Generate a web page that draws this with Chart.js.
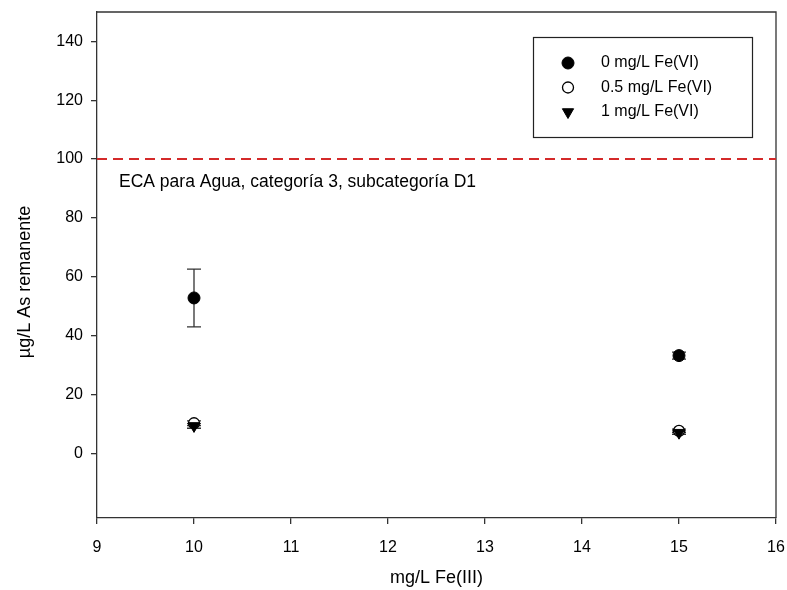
<!DOCTYPE html>
<html>
<head>
<meta charset="utf-8">
<script src="https://cdn.jsdelivr.net/npm/chart.js@4.4.1/dist/chart.umd.min.js"></script>
<style>
html,body{margin:0;padding:0;background:#fff;}
#wrap{width:787px;height:590px;position:relative;}
</style>
</head>
<body>
<div id="wrap"><canvas id="c" width="787" height="590"></canvas></div>
<script>
// ---- data ----
const xValues = [10, 15];
const seriesNames = ['0 mg/L Fe(VI)', '0.5 mg/L Fe(VI)', '1 mg/L Fe(VI)'];
const series0 = [52.8, 33.2];
const series0Err = [9.8, 1.2];
const series1 = [10.2, 7.6];
const series1Err = [0.8, 0.6];
const series2 = [9.3, 7.0];
const series2Err = [0.8, 0.6];
const xTicks = [9, 10, 11, 12, 13, 14, 15, 16];
const yTicks = [0, 20, 40, 60, 80, 100, 120, 140];
const limitValue = 100;
const limitLabel = 'ECA para Agua, categoría 3, subcategoría D1';
const xTitle = 'mg/L Fe(III)';
const yTitle = 'µg/L As remanente';

const FONT = 'Arial, "Liberation Sans", sans-serif';

function pts(vals){ return xValues.map((x,i)=>({x:x, y:vals[i]})); }

const datasets = [
  {label: seriesNames[0], data: pts(series0), err: series0Err, pointStyle:'circle', pointRadius:6,
   backgroundColor:'#000', borderColor:'#000', borderWidth:1, rotation:0, order:2},
  {label: seriesNames[1], data: pts(series1), err: series1Err, pointStyle:'circle', pointRadius:5.5,
   backgroundColor:'#fff', borderColor:'#000', borderWidth:1.3, rotation:0, order:1},
  {label: seriesNames[2], data: pts(series2), err: series2Err, pointStyle:'triangle', pointRadius:6.5,
   backgroundColor:'#000', borderColor:'#000', borderWidth:1, rotation:180, order:0}
];

const errorBars = {
  id:'errorBars',
  beforeDatasetsDraw(chart){
    const ctx = chart.ctx;
    const ys = chart.scales.y, xs = chart.scales.x;
    ctx.save();
    ctx.strokeStyle = '#333';
    ctx.lineWidth = 1.3;
    chart.data.datasets.forEach(ds=>{
      ds.data.forEach((p,i)=>{
        const e = ds.err[i];
        const px = xs.getPixelForValue(p.x);
        const yt = ys.getPixelForValue(p.y + e), yb = ys.getPixelForValue(p.y - e);
        ctx.beginPath();
        ctx.moveTo(px, yt); ctx.lineTo(px, yb);
        ctx.moveTo(px-7, yt); ctx.lineTo(px+7, yt);
        ctx.moveTo(px-7, yb); ctx.lineTo(px+7, yb);
        ctx.stroke();
      });
    });
    ctx.restore();
  }
};

const decor = {
  id:'decor',
  afterDraw(chart){
    const ctx = chart.ctx;
    const a = chart.chartArea;
    const ys = chart.scales.y;
    ctx.save();
    // frame top/right
    ctx.strokeStyle = '#333';
    ctx.lineWidth = 1.3;
    ctx.beginPath();
    ctx.moveTo(a.left, a.top); ctx.lineTo(a.right, a.top); ctx.lineTo(a.right, a.bottom);
    ctx.stroke();
    // limit line
    const ly = ys.getPixelForValue(limitValue);
    ctx.strokeStyle = '#d42a2a';
    ctx.lineWidth = 2;
    ctx.setLineDash([10,6]);
    ctx.beginPath();
    ctx.moveTo(a.left, ly); ctx.lineTo(a.right, ly);
    ctx.stroke();
    ctx.setLineDash([]);
    // limit label
    ctx.fillStyle = '#000';
    ctx.font = '17.5px ' + FONT;
    ctx.textAlign = 'left';
    ctx.textBaseline = 'middle';
    ctx.fillText(limitLabel, 119, ly + 23);
    // legend
    ctx.strokeStyle = '#222';
    ctx.lineWidth = 1.2;
    ctx.strokeRect(533.5, 37.5, 219, 100);
    ctx.font = '16px ' + FONT;
    const rows = [63, 87.5, 112];
    chart.data.datasets.forEach((ds,i)=>{
      ctx.fillStyle = ds.backgroundColor;
      ctx.strokeStyle = ds.borderColor;
      ctx.lineWidth = ds.borderWidth;
      Chart.helpers.drawPoint(ctx, {pointStyle: ds.pointStyle, radius: ds.pointRadius, rotation: ds.rotation, borderWidth: ds.borderWidth}, 568, rows[i]);
      ctx.fillStyle = '#000';
      ctx.fillText(ds.label, 601, rows[i]);
    });
    // axis titles
    ctx.font = '18px ' + FONT;
    ctx.fillStyle = '#000';
    ctx.textAlign = 'center';
    ctx.textBaseline = 'middle';
    ctx.fillText(xTitle, (a.left + a.right)/2, 578);
    ctx.translate(25, 282);
    ctx.rotate(-Math.PI/2);
    ctx.fillText(yTitle, 0, 0);
    ctx.restore();
  }
};

new Chart(document.getElementById('c'), {
  type:'scatter',
  data:{datasets: datasets},
  plugins:[errorBars, decor],
  options:{
    responsive:false,
    animation:false,
    devicePixelRatio:1,
    layout:{padding:{left:0, right:11, top:12, bottom:0}},
    plugins:{legend:{display:false}, tooltip:{enabled:false}},
    scales:{
      x:{
        type:'linear', min:9, max:16,
        afterBuildTicks(s){ s.ticks = xTicks.map(v=>({value:v})); },
        afterFit(s){ s.height = 72; s.paddingLeft = 0; s.paddingRight = 0; },
        grid:{drawOnChartArea:false, drawTicks:true, tickLength:6, color:'#333', lineWidth:1.3},
        border:{display:true, color:'#333', width:1.3},
        ticks:{color:'#000', font:{family:FONT, size:16}, padding:14, maxRotation:0}
      },
      y:{
        type:'linear', min:-22, max:150,
        afterBuildTicks(s){ s.ticks = yTicks.map(v=>({value:v})); },
        afterFit(s){ s.width = 97; s.paddingTop = 0; s.paddingBottom = 0; },
        grid:{drawOnChartArea:false, drawTicks:true, tickLength:6, color:'#333', lineWidth:1.3},
        border:{display:true, color:'#333', width:1.3},
        ticks:{color:'#000', font:{family:FONT, size:16}, padding:8}
      }
    }
  }
});
</script>
</body>
</html>
